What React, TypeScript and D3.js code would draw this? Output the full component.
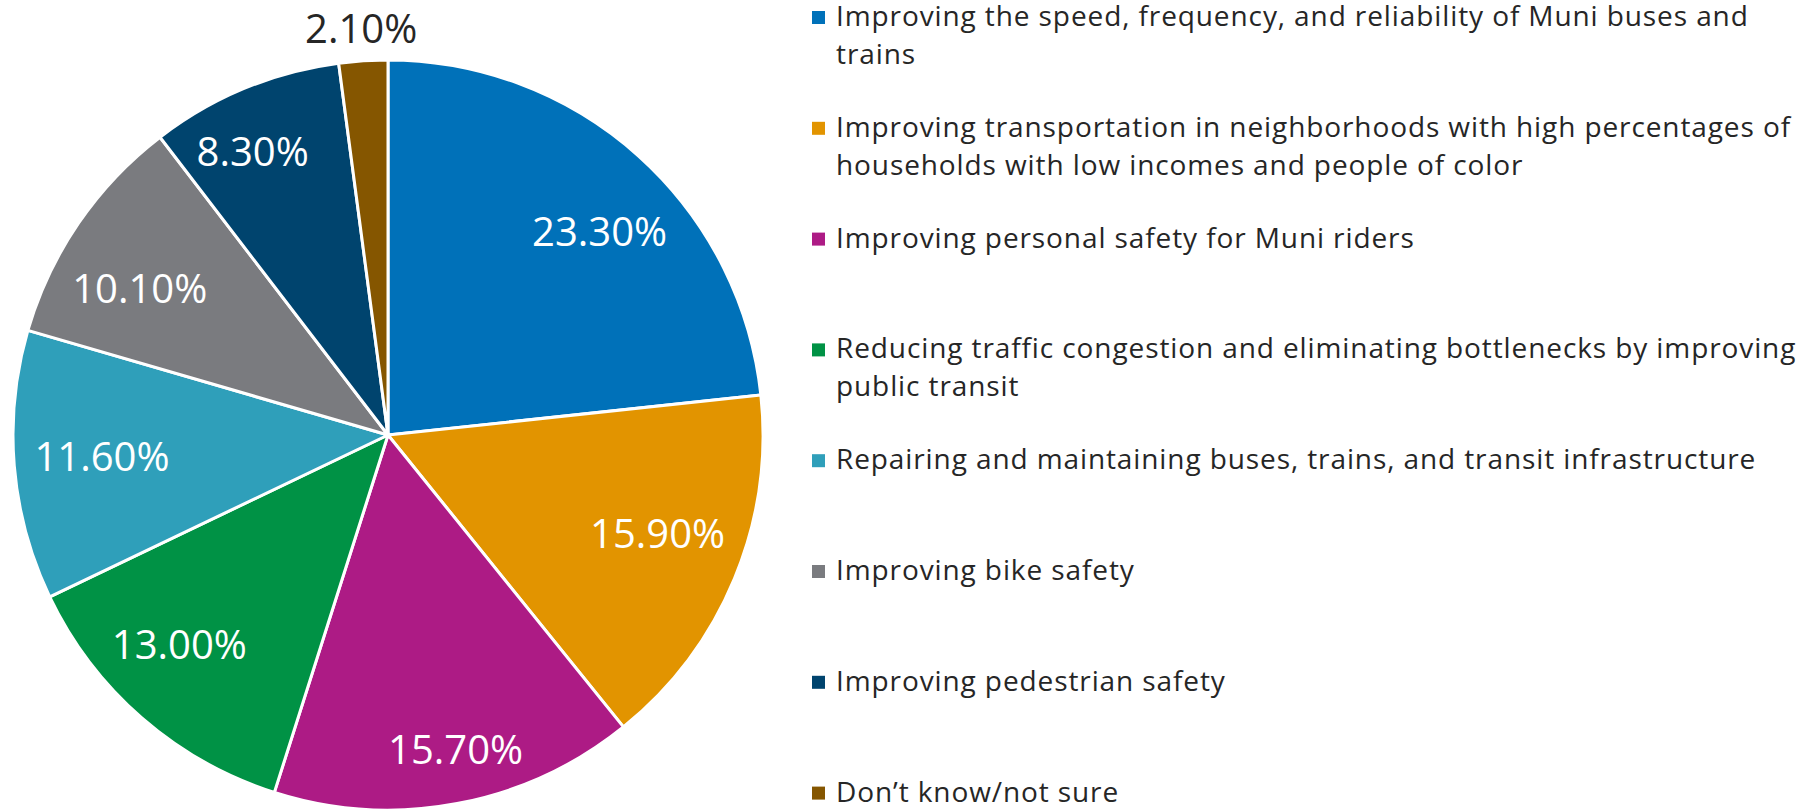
import React from "react";
import * as d3 from "d3";

const categories: string[] = [
  "Improving the speed, frequency, and reliability of Muni buses and\ntrains",
  "Improving transportation in neighborhoods with high percentages of\nhouseholds with low incomes and people of color",
  "Improving personal safety for Muni riders",
  "Reducing traffic congestion and eliminating bottlenecks by improving\npublic transit",
  "Repairing and maintaining buses, trains, and transit infrastructure",
  "Improving bike safety",
  "Improving pedestrian safety",
  "Don\u2019t know/not sure",
];
const values: number[] = [23.3, 15.9, 15.7, 13.0, 11.6, 10.1, 8.3, 2.1];
const colors: string[] = [
  "#0071b9",
  "#e29400",
  "#ad1b85",
  "#009245",
  "#2f9fba",
  "#7a7b7f",
  "#00446e",
  "#855600",
];

const W = 1810;
const H = 810;
const FONT = "'Open Sans', 'Noto Sans', sans-serif";

type Datum = { v: number; i: number };

export default function App() {
  const cx = 388;
  const cy = 435;
  const r = 375;
  const labelFont = 40;
  const data: Datum[] = values.map((v, i) => ({ v, i }));
  const pie = d3.pie<Datum>().value((d) => d.v).sort(null);
  const arcs = pie(data);
  const arcGen = d3.arc<d3.PieArcDatum<Datum>>().innerRadius(0).outerRadius(r);

  const fmt = (v: number) => v.toFixed(2) + "%";

  const labelPos = (a: d3.PieArcDatum<Datum>, txt: string) => {
    const mid = (a.startAngle + a.endAngle) / 2;
    if (a.value < 5) {
      const rr = r + 33;
      return { x: rr * Math.sin(mid), y: -rr * Math.cos(mid), inside: false };
    }
    let dx = 1.15 * Math.sin(mid);
    let dy = -Math.cos(mid);
    const len = Math.hypot(dx, dy);
    dx /= len;
    dy /= len;
    const hw = (txt.length * 0.56 * labelFont) / 2;
    const hh = 15;
    const target = r - 20;
    const sx = dx >= 0 ? hw : -hw;
    const sy = dy >= 0 ? hh : -hh;
    const b = 2 * (dx * sx + dy * sy);
    const c = sx * sx + sy * sy - target * target;
    const rho = (-b + Math.sqrt(b * b - 4 * c)) / 2;
    return { x: rho * dx, y: rho * dy, inside: true };
  };

  const legendX = 812;
  const legendTop = 26;
  const legendStep = 110.8;
  const lineH = 38;

  return (
    <svg
      width={W}
      height={H}
      style={{ position: "absolute", left: 0, top: 0, background: "#fff" }}
    >
      <g transform={`translate(${cx},${cy})`}>
        {arcs.map((a, k) => (
          <path
            key={k}
            d={arcGen(a) || ""}
            fill={colors[a.data.i]}
            stroke="#fff"
            strokeWidth={3}
            strokeLinejoin="round"
          />
        ))}
        {arcs.map((a, k) => {
          const t = fmt(a.data.v);
          const p = labelPos(a, t);
          return (
            <text
              key={"l" + k}
              x={p.x}
              y={p.y}
              textAnchor="middle"
              dominantBaseline="central"
              fontFamily={FONT}
              fontSize={labelFont}
              fill={p.inside ? "#ffffff" : "#262626"}
            >
              {t}
            </text>
          );
        })}
      </g>
      <g>
        {categories.map((c, i) => {
          const base = legendTop + i * legendStep;
          const lines = c.split("\n");
          return (
            <g key={"lg" + i}>
              <rect x={legendX} y={base - 15} width={13} height={13} fill={colors[i]} />
              <text fontFamily={FONT} fontSize={28} letterSpacing={0.9} fill="#262626">
                {lines.map((ln, j) => (
                  <tspan key={j} x={legendX + 24} y={base + j * lineH}>
                    {ln}
                  </tspan>
                ))}
              </text>
            </g>
          );
        })}
      </g>
    </svg>
  );
}
